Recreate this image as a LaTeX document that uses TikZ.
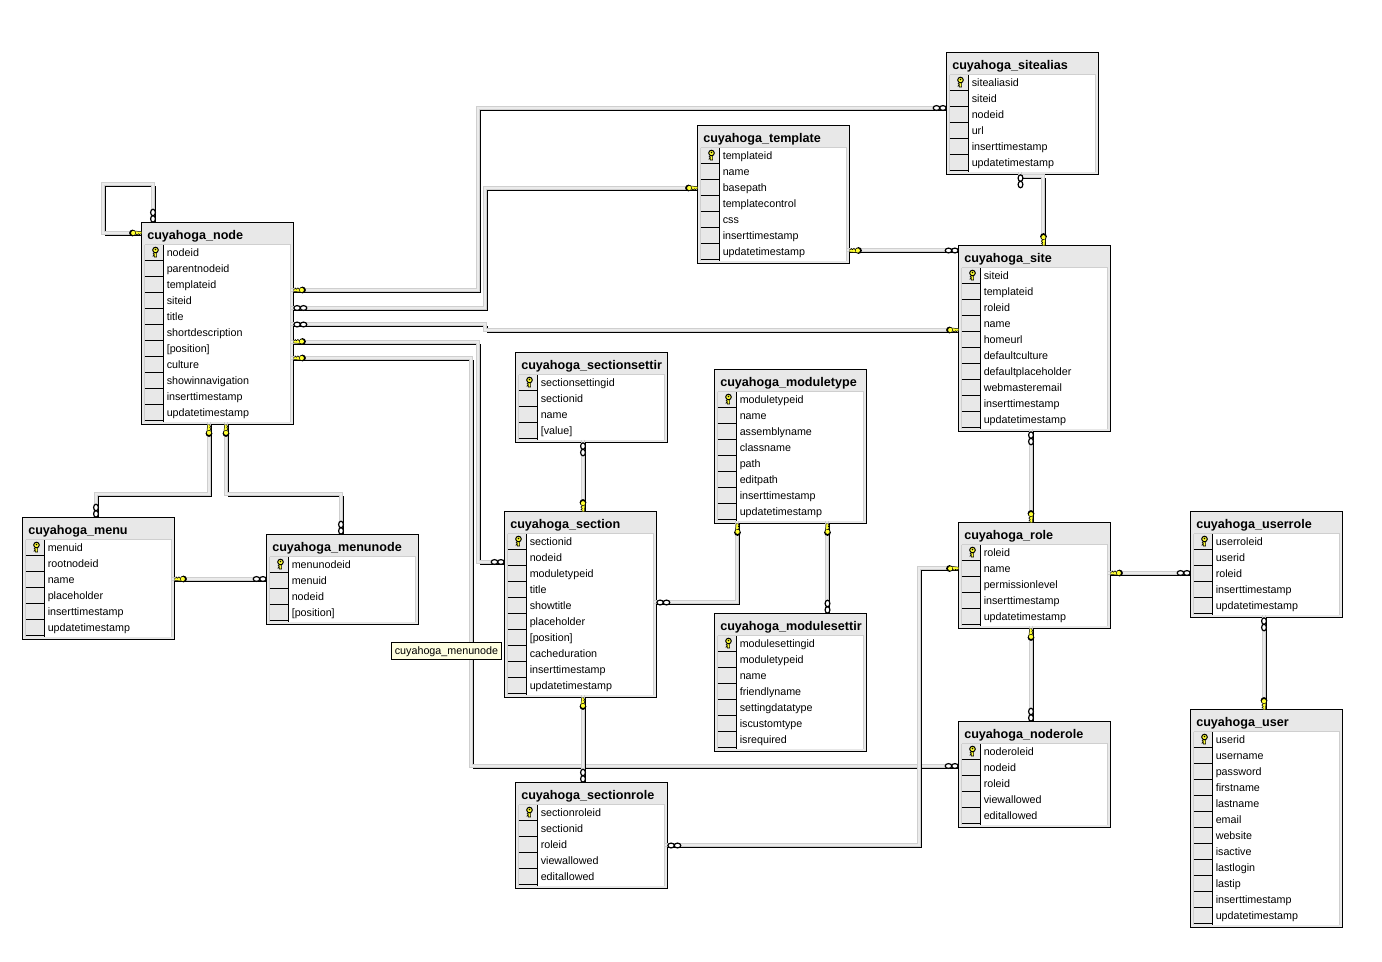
\documentclass[tikz,border=0pt]{standalone}
\usepackage{fontspec}
\setmainfont{Liberation Sans}
\definecolor{panel}{HTML}{E8E8E8}
\definecolor{edgegrey}{HTML}{CFCFCF}
\definecolor{midgrey}{HTML}{EBEBEB}
\definecolor{keyyellow}{HTML}{FFFF33}
\definecolor{tipyellow}{HTML}{FFFFE1}
\tikzset{
  tablebox/.style={draw=black,line width=0.75pt,fill=panel,anchor=north west,inner sep=0pt,outer sep=0pt,minimum width=114pt},
  tabletitle/.style={anchor=base west,inner sep=0pt,font=\bfseries\fontsize{9.45}{11}\selectfont},
  rowtext/.style={anchor=base west,inner sep=0pt,font=\fontsize{8.05}{9.5}\selectfont},
  relblack/.style={draw=black,line width=0.75pt},
  relouter/.style={draw=edgegrey,line width=2.9pt,line join=miter,transform canvas={xshift=-1.9pt,yshift=1.9pt}},
  relinner/.style={draw=midgrey,line width=1.2pt,line join=miter,transform canvas={xshift=-1.9pt,yshift=1.9pt}},
  relkey/.pic={
    \fill[keyyellow,draw=black,line width=0.35pt] (-9,-2.2)--(0,-1.4)--(0,0.8)--(-1.5,0.8)--(-1.5,2.2)--(-3,0.8)--(-4.5,2.2)--(-5.5,0.8)--(-9,2.2)--cycle;
    \fill[black] (-9,0) circle (3.4);
    \fill[keyyellow] (-8.3,0) circle (2.1);
  },
  pkkey/.pic={
    \fill[keyyellow,draw=black,line width=0.45pt] (-6,-1.1)--(0,-1.1)--(0,1.1)--(-1,1.1)--(-1,2.4)--(-2.2,1.1)--(-3.2,2.4)--(-4,1.1)--(-6,1.1)--cycle;
    \fill[keyyellow,draw=black,line width=0.75pt] (-7,0) circle (2.8);
    \fill[black] (-7.5,0) circle (0.8);
  },
  relchain/.pic={
    \draw[black,line width=0.9pt,fill=white] (3.6,0) ellipse (3.3 and 2.4);
    \draw[black,line width=0.9pt,fill=white] (10,0) ellipse (3.3 and 2.4);
  }
}
\newcommand\dbtable[6]{%
  \pgfmathsetmacro\hh{26+16*#4}
  \pgfmathsetmacro\hp{\hh*0.75}
  \node[tablebox,minimum height=\hp pt] (#1) at (#2,#3) {};
  \fill[white] (#2+22,#3+22) rectangle (#2+149,#3+\hh-3);
  \draw[edgegrey,line width=0.75pt] (#2+3,#3+22) -- (#2+149,#3+22) -- (#2+149,#3+\hh-3);
  \draw[edgegrey,line width=0.75pt] (#2+3,#3+22) -- (#2+3,#3+\hh-3);
  \draw[black,line width=0.75pt] (#2+22,#3+22.5) -- (#2+22,#3+\hh-3);
  \node[tabletitle] (#1-t) at (#2+5.5,#3+17.2) {#5};
  \foreach \rowlabel [count=\ri] in {#6} {
    \pgfmathsetmacro\rowb{#3+33.5+16*(\ri-1)}
    \pgfmathsetmacro\rowl{#3+38+16*(\ri-1)}
    \node[rowtext] (#1-r\ri) at (#2+25,\rowb) {\rowlabel};
    \draw[black,line width=0.75pt] (#2+3,\rowl) -- (#2+22,\rowl);
  }
  \pic[rotate=-90] at (#2+14,#3+34.5) {pkkey};
}
\newcommand\rel[1]{%
  \draw[relblack] #1;
  \draw[relouter] #1;
  \draw[relinner] #1;
}
\newcommand\keyat[2]{\pic[rotate=#2] at #1 {relkey};}
\newcommand\chainat[2]{\pic[rotate=#2] at #1 {relchain};}
\begin{document}
\begin{tikzpicture}[x=0.75pt,y=-0.75pt]
\useasboundingbox[fill=white] (0,0) rectangle (1382,961);

% tables are named first so that the connectors can refer to them
\dbtable{cnode}{141.5}{222.5}{11}{cuyahoga\_node}{nodeid,parentnodeid,templateid,siteid,title,shortdescription,{[position]},culture,showinnavigation,inserttimestamp,updatetimestamp}
\dbtable{sitealias}{946.5}{52.5}{6}{cuyahoga\_sitealias}{sitealiasid,siteid,nodeid,url,inserttimestamp,updatetimestamp}
\dbtable{template}{697.5}{125.5}{7}{cuyahoga\_template}{templateid,name,basepath,templatecontrol,css,inserttimestamp,updatetimestamp}
\dbtable{site}{958.5}{245.5}{10}{cuyahoga\_site}{siteid,templateid,roleid,name,homeurl,defaultculture,defaultplaceholder,webmasteremail,inserttimestamp,updatetimestamp}
\dbtable{sectionsetting}{515.5}{352.5}{4}{cuyahoga\_sectionsettir}{sectionsettingid,sectionid,name,{[value]}}
\dbtable{moduletype}{714.5}{369.5}{8}{cuyahoga\_moduletype}{moduletypeid,name,assemblyname,classname,path,editpath,inserttimestamp,updatetimestamp}
\dbtable{modulesetting}{714.5}{613.5}{7}{cuyahoga\_modulesettir}{modulesettingid,moduletypeid,name,friendlyname,settingdatatype,iscustomtype,isrequired}
\dbtable{section}{504.5}{511.5}{10}{cuyahoga\_section}{sectionid,nodeid,moduletypeid,title,showtitle,placeholder,{[position]},cacheduration,inserttimestamp,updatetimestamp}
\dbtable{menu}{22.5}{517.5}{6}{cuyahoga\_menu}{menuid,rootnodeid,name,placeholder,inserttimestamp,updatetimestamp}
\dbtable{menunode}{266.5}{534.5}{4}{cuyahoga\_menunode}{menunodeid,menuid,nodeid,{[position]}}
\dbtable{role}{958.5}{522.5}{5}{cuyahoga\_role}{roleid,name,permissionlevel,inserttimestamp,updatetimestamp}
\dbtable{userrole}{1190.5}{511.5}{5}{cuyahoga\_userrole}{userroleid,userid,roleid,inserttimestamp,updatetimestamp}
\dbtable{user}{1190.5}{709.5}{12}{cuyahoga\_user}{userid,username,password,firstname,lastname,email,website,isactive,lastlogin,lastip,inserttimestamp,updatetimestamp}
\dbtable{noderole}{958.5}{721.5}{5}{cuyahoga\_noderole}{noderoleid,nodeid,roleid,viewallowed,editallowed}
\dbtable{sectionrole}{515.5}{782.5}{5}{cuyahoga\_sectionrole}{sectionroleid,sectionid,roleid,viewallowed,editallowed}

% connectors
\rel{(cnode.north -| 155.5,0) -- (155.5,186.5) -- (105.5,186.5) -- (105.5,235.5) -- (cnode.west |- 0,235.5)}
\rel{(cnode.east |- 0,292.5) -- (480.5,292.5) -- (480.5,110.5) -- (sitealias.west |- 0,110.5)}
\rel{(cnode.east |- 0,310.5) -- (487.5,310.5) -- (487.5,190.5) -- (template.west |- 0,190.5)}
\rel{(cnode.east |- 0,326.5) -- (487.5,326.5) -- (487.5,332.5) -- (site.west |- 0,332.5)}
\rel{(cnode.east |- 0,344.5) -- (480.5,344.5) -- (480.5,564.5) -- (section.west |- 0,564.5)}
\rel{(cnode.east |- 0,360.5) -- (473.5,360.5) -- (473.5,768.5) -- (noderole.west |- 0,768.5)}
\rel{(template.east |- 0,252.5) -- (site.west |- 0,252.5)}
\rel{(sitealias.south -| 1022.5,0) -- (1022.5,178.5) -- (1045.5,178.5) -- (site.north -| 1045.5,0)}
\rel{(site.south -| 1033.5,0) -- (role.north -| 1033.5,0)}
\rel{(role.east |- 0,575.5) -- (userrole.west |- 0,575.5)}
\rel{(userrole.south -| 1266.5,0) -- (user.north -| 1266.5,0)}
\rel{(role.south -| 1033.5,0) -- (noderole.north -| 1033.5,0)}
\rel{(section.south -| 585.5,0) -- (sectionrole.north -| 585.5,0)}
\rel{(sectionrole.east |- 0,847.5) -- (921.5,847.5) -- (921.5,570.5) -- (role.west |- 0,570.5)}
\rel{(sectionsetting.south -| 585.5,0) -- (section.north -| 585.5,0)}
\rel{(section.east |- 0,604.5) -- (739.5,604.5) -- (moduletype.south -| 739.5,0)}
\rel{(moduletype.south -| 829.5,0) -- (modulesetting.north -| 829.5,0)}
\rel{(cnode.south -| 211.5,0) -- (211.5,496.5) -- (98.5,496.5) -- (menu.north -| 98.5,0)}
\rel{(cnode.south -| 228.5,0) -- (228.5,496.5) -- (343.5,496.5) -- (menunode.north -| 343.5,0)}
\rel{(menu.east |- 0,581.5) -- (menunode.west |- 0,581.5)}

% tooltip
\node[draw=black,line width=0.75pt,fill=tipyellow,inner sep=0pt,minimum width=82.5pt,minimum height=12.2pt,text depth=0pt,font=\fontsize{8.05}{9.5}\selectfont] (tooltip) at (446.5,651) {cuyahoga\_menunode};

% relationship end symbols
\chainat{(cnode.north -| 153,0)}{90}
\keyat{(cnode.west |- 0,233)}{0}
\keyat{(cnode.east |- 0,290)}{180}
\chainat{(sitealias.west |- 0,108)}{180}
\chainat{(cnode.east |- 0,308)}{0}
\keyat{(template.west |- 0,188)}{0}
\chainat{(cnode.east |- 0,324.5)}{0}
\keyat{(site.west |- 0,330)}{0}
\keyat{(cnode.east |- 0,341.5)}{180}
\chainat{(section.west |- 0,562)}{180}
\keyat{(cnode.east |- 0,358)}{180}
\chainat{(noderole.west |- 0,766)}{180}
\keyat{(template.east |- 0,250.5)}{180}
\chainat{(site.west |- 0,250.5)}{180}
\chainat{(sitealias.south -| 1020.5,0)}{-90}
\keyat{(site.north -| 1043.5,0)}{-90}
\chainat{(site.south -| 1031,0)}{-90}
\keyat{(role.north -| 1031,0)}{-90}
\keyat{(role.east |- 0,573)}{180}
\chainat{(userrole.west |- 0,573)}{180}
\chainat{(userrole.south -| 1264,0)}{-90}
\keyat{(user.north -| 1264,0)}{-90}
\keyat{(role.south -| 1031,0)}{90}
\chainat{(noderole.north -| 1031,0)}{90}
\keyat{(section.south -| 583,0)}{90}
\chainat{(sectionrole.north -| 583,0)}{90}
\chainat{(sectionrole.east |- 0,845.5)}{0}
\keyat{(role.west |- 0,568.5)}{0}
\chainat{(sectionsetting.south -| 583,0)}{-90}
\keyat{(section.north -| 583,0)}{-90}
\chainat{(section.east |- 0,602.5)}{0}
\keyat{(moduletype.south -| 737.5,0)}{90}
\keyat{(moduletype.south -| 827.5,0)}{90}
\chainat{(modulesetting.north -| 827.5,0)}{90}
\keyat{(cnode.south -| 209,0)}{90}
\chainat{(menu.north -| 96,0)}{90}
\keyat{(cnode.south -| 226,0)}{90}
\chainat{(menunode.north -| 341,0)}{90}
\keyat{(menu.east |- 0,579)}{180}
\chainat{(menunode.west |- 0,579)}{180}
\end{tikzpicture}
\end{document}
